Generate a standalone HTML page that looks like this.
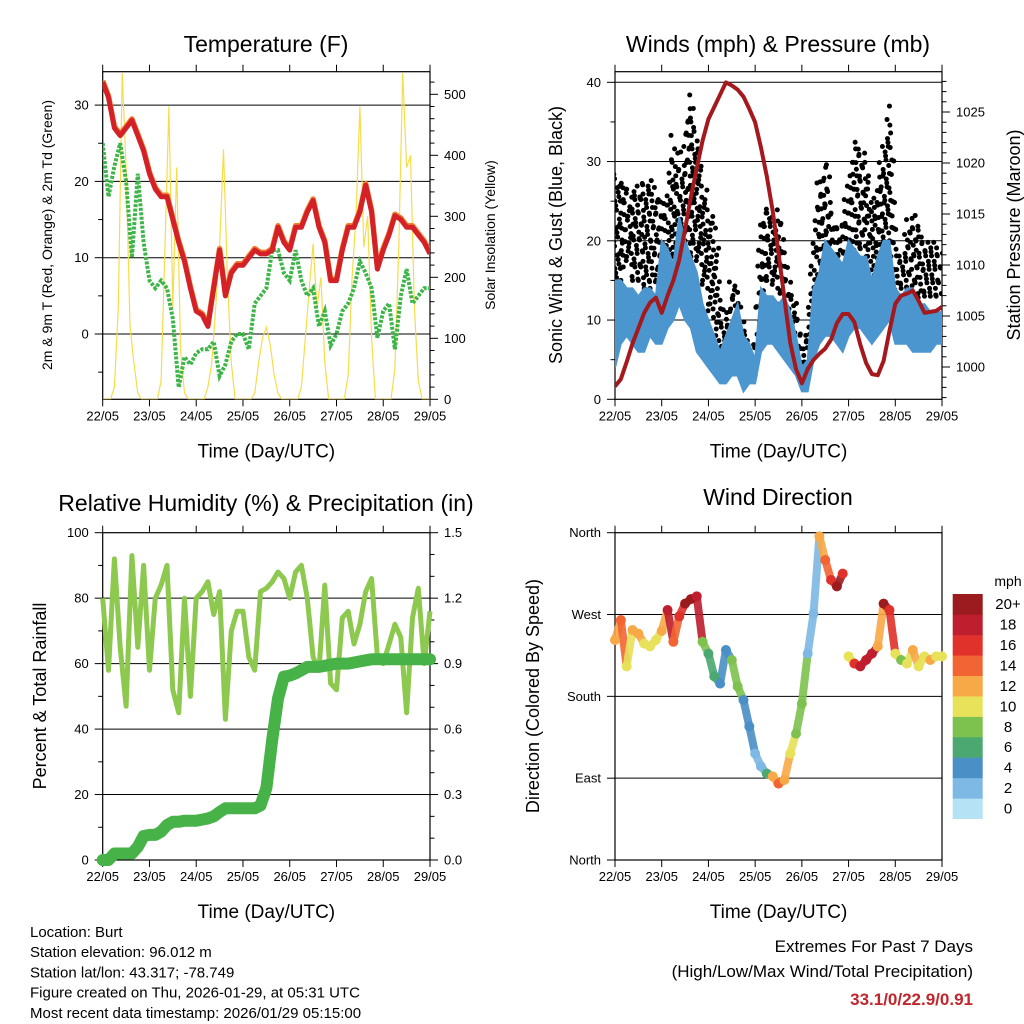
<!DOCTYPE html>
<html><head><meta charset="utf-8"><style>
html,body{margin:0;padding:0;background:#fff;}
svg{display:block;font-family:"Liberation Sans",Arial,sans-serif;}
</style></head><body>
<svg id="chart" width="1024" height="1024" viewBox="0 0 1024 1024"></svg>
<script>
// ===== DATA (3-hourly, index i => day i/8 from 22/05 00 UTC) =====
const dayLabels = ["22/05","23/05","24/05","25/05","26/05","27/05","28/05","29/05"];
const tempF = [33,31,27,26,27,28,26,24, 21,19,18,18,15,12,9.5,6, 3,2.5,1,6,11,5,8,9, 9,10,11,10.5,10.5,11,14,12, 11,14,14,16,17.5,14,12,7, 7,11,14,14,16,19.5,16,8.5, 11,13,15.5,15,14,14,13,12, 10.5];
const dewF = [25,18,22,25,20,10,21,12, 7,6,7,6,2,-7,-3,-4, -2.5,-2,-2,-1,-5.5,-4,-1,0, 0,-2,4,5,6,11,11,8, 7,11,7,5,6,1,3,-1.5, 0,3,4,6,9.5,8,6,-0.5, 3,4,-2,5,8.5,4,5,6, 6];
const solar = [0,0,0,20,150,535,380,120,60,10,0,0, 0,0,0,30,250,480,150,380,80,10,0,0, 0,0,0,20,60,150,250,410,200,60,0,0, 0,0,0,10,60,100,118,90,40,10,0,0, 0,0,0,20,100,180,255,150,200,60,0,0, 0,0,0,40,200,300,480,250,300,100,0,0, 0,0,0,50,250,535,380,400,150,30,0,0, 0]; // 2-hourly
const gustHi = [30,28,28,26,28,27,28,26, 25,26,34,28,35,39,33,28, 24,22,14,10,15,15,9,8, 6,23,25,22,25,20,14,12, 7,10,20,28,30,25,22,23, 28,33,32,30,25,27,32,38, 20,18,22,24,22,20,20,20, 18];
const gustLo = [8,15,18,15,15,14,14,15, 13,16,18,20,20,18,18,15, 12,8,4,4,8,5,3,3, 3,12,15,15,12,10,8,5, 3,4,10,12,16,15,13,12, 15,18,19,18,14,16,20,20, 13,14,14,13,12,13,13,13, 12];
const windHi = [15,15,14,14,13,14,14,13, 20,19,17,23,20,18,16,12, 10,8,6,8,10,12,8,7, 5,14,13,13,12,13,11,8, 4,5,14,16,20,19,18,17, 20,19,18,18,15,18,20,20, 14,13,14,14,12,12,11,11, 11];
const windLo = [4,7,8,7,6,6,8,7, 7,9,10,12,10,9,6,5, 4,3,2,2,3,3,1,2, 2,6,7,7,6,5,4,3, 1,1,5,7,8,8,7,6, 8,9,9,8,7,8,9,10, 7,7,7,6,6,6,6,7, 7];
const pressure = [998.1,998.8,1000.5,1002.3,1003.8,1005.3,1006.3,1006.8, 1005.3,1007,1008.5,1010.5,1013.5,1016.7,1019.5,1022.2, 1024.3,1025.5,1026.7,1027.9,1027.6,1027.2,1026.5,1025.3, 1024,1021.5,1018.7,1015.3,1011.2,1006.8,1002.4,999.8, 998.4,999.8,1000.7,1001.3,1001.8,1002.7,1004.3,1005.2, 1005.2,1004.4,1002.2,1000.4,999.3,999.2,1000.6,1003.5, 1006.2,1007,1007.2,1007.5,1006.5,1005.3,1005.4,1005.5, 1005.9];
const rh = [80,58,92,65,47,93,65,90, 58,80,84,90,52,45,80,50, 80,82,85,75,82,43,70,76, 76,62,58,82,83,85,88,86, 80,88,90,80,62,58,84,54, 52,74,76,66,72,82,86,62, 60,66,72,68,45,74,83,60, 76];
const rain = [0,0,0.03,0.03,0.03,0.03,0.06,0.11, 0.115,0.115,0.13,0.16,0.175,0.175,0.18,0.18, 0.18,0.185,0.19,0.2,0.22,0.237,0.237,0.237, 0.237,0.237,0.237,0.25,0.33,0.55,0.74,0.84, 0.845,0.855,0.87,0.885,0.885,0.885,0.89,0.895, 0.9,0.9,0.9,0.905,0.91,0.915,0.92,0.92, 0.92,0.92,0.92,0.92,0.92,0.92,0.92,0.92, 0.92];
const windDir = [242,264,213,253,249,238,235,242, 252,275,240,268,282,287,290,240, 227,202,194,231,220,191,176,147, 117,103,95,92,84,88,117,139, 172,227,271,356,330,308,301,315, 224,216,213,220,227,235,282,275, 227,220,216,231,213,224,220,224, 224];
const dirSpeed = [12,14,10,12,12,10,10,10, 12,18,14,16,20,20,18,8, 6,6,4,4,8,8,4,4, 2,2,6,12,14,12,10,8, 8,2,2,12,14,16,20,16, 10,16,18,18,18,12,20,16, 10,8,10,12,10,10,12,10, 10];
const speedColors = ["#B6E2F6","#7DB9E4","#4A8FC6","#4AA870","#7DC24E","#E8E15A","#F8A947","#F26532","#E0312A","#BE1E2D","#9B1B1E"];
const speedLabels = ["0","2","4","6","8","10","12","14","16","18","20+"];
const dirLabels = ["North","East","South","West","North"];

// ===== HELPERS =====
const NS="http://www.w3.org/2000/svg";
const svg=document.getElementById("chart");
function mk(tag,attrs,parent){const e=document.createElementNS(NS,tag);for(const k in attrs)e.setAttribute(k,attrs[k]);(parent||svg).appendChild(e);return e;}
function txt(s,x,y,size,anchor,parent,extra){const t=mk("text",Object.assign({x:x,y:y,"font-size":size,"text-anchor":anchor||"middle",fill:"#000"},extra||{}),parent);t.textContent=s;return t;}
function lin(v0,v1,p0,p1){return v=>p0+(v-v0)/(v1-v0)*(p1-p0);}

const P1={x0:102.7,x1:430,y0:71.7,y1:399.3};
const P2={x0:615,x1:942,y0:71.7,y1:399.3};
const P3={x0:102.7,x1:430,y0:532.7,y1:860};
const P4={x0:615,x1:942,y0:532.7,y1:860};

function frame(P,name){
  const g=mk("g",{});
  
  
  mk("rect",{x:P.x0,y:P.y0,width:P.x1-P.x0,height:P.y1-P.y0,fill:"none",stroke:"#000","stroke-width":1.2},g);
  const xs=lin(0,7,P.x0,P.x1);
  for(let d=0;d<=7;d++){
    const x=xs(d);
    mk("line",{x1:x,x2:x,y1:P.y1,y2:P.y1+7,stroke:"#000","stroke-width":1},g);
    mk("line",{x1:x,x2:x,y1:P.y0,y2:P.y0-7,stroke:"#000","stroke-width":1},g);
    const t=txt(dayLabels[d],x,P.y1+21,13,"middle",g);
    
    
  }
  const xt=txt("Time (Day/UTC)",(P.x0+P.x1)/2,P.y1+58,19,"middle",g);
  
  
  return xs;
}
function yTicks(P,side,scale,major,minor,lo,hi,labelFn,grid){
  const g=mk("g",{});
  
  
  const x=side==="left"?P.x0:P.x1, dir=side==="left"?-1:1;
  for(let v=Math.ceil(lo/minor)*minor;v<=hi+1e-9;v+=minor){
    const y=scale(v); if(y<P.y0-0.5||y>P.y1+0.5)continue;
    const isMaj=Math.abs(v/major-Math.round(v/major))<1e-6;
    mk("line",{x1:x,x2:x+dir*(isMaj?8:4.5),y1:y,y2:y,stroke:"#000","stroke-width":1},g);
    if(isMaj){
      const t=txt(labelFn(v),x+dir*14,y+4.5,13,side==="left"?"end":"start",g);
      
      
      if(grid&&y>P.y0+1&&y<P.y1-1)mk("line",{x1:P.x0,x2:P.x1,y1:y,y2:y,stroke:"#000","stroke-width":1},g);
    }
  }
}
function vtitle(s,x,y,size,name){const t=txt(s,x,y,size,"middle",svg,{transform:"rotate(-90 "+x+" "+y+")"});}
function title(s,x,y,name){const t=txt(s,x,y,23,"middle");}
function pathD(arr,xs,ys,step){return arr.map((v,i)=>(i?"L":"M")+xs(i*step).toFixed(1)+","+ys(v).toFixed(1)).join("");}

// ===== PANEL 1: TEMPERATURE =====
title("Temperature (F)",266,52,"temperature-title");
const xs1=frame(P1,"temperature");
const yT=lin(0,10,334,257.7);
const yS=lin(0,100,399.3,338.3);
yTicks(P1,"left",yT,10,5,-10,40,v=>String(v),true);
yTicks(P1,"right",yS,100,20,0,540,v=>String(v),false);
vtitle("2m & 9m T (Red, Orange) & 2m Td (Green)",52,235,14,"temperature-y-axis-title");
vtitle("Solar Insolation (Yellow)",495,235,14,"solar-y-axis-title");
const clip1=mk("clipPath",{id:"c1"});mk("rect",{x:P1.x0,y:P1.y0,width:P1.x1-P1.x0,height:P1.y1-P1.y0},clip1);
const g1=mk("g",{"clip-path":"url(#c1)"});
let e;
e=mk("path",{d:pathD(solar,xs1,yS,1/12),fill:"none",stroke:"#F7DC4A","stroke-width":1.2},g1);


e=mk("path",{d:pathD(dewF,xs1,yT,1/8),fill:"none",stroke:"#3DB548","stroke-width":4,"stroke-dasharray":"3 1.5"},g1);


e=mk("path",{d:pathD(tempF,xs1,yT,1/8),fill:"none",stroke:"#F08030","stroke-width":5.5,transform:"translate(0,-1.5)","stroke-linejoin":"round"},g1);


e=mk("path",{d:pathD(tempF,xs1,yT,1/8),fill:"none",stroke:"#D42027","stroke-width":5,"stroke-linejoin":"round"},g1);



// ===== PANEL 2: WINDS & PRESSURE =====
title("Winds (mph) & Pressure (mb)",778,52,"winds-title");
const xs2=frame(P2,"winds");
const yW=lin(0,10,399.3,320.05);
const yP=lin(1000,1005,367,316);
yTicks(P2,"left",yW,10,5,0,41,v=>String(v),true);
yTicks(P2,"right",yP,5,1,997,1029,v=>String(v),false);
vtitle("Sonic Wind & Gust (Blue, Black)",562,235,18,"wind-y-axis-title");
vtitle("Station Pressure (Maroon)",1020,235,18,"pressure-y-axis-title");
const clip2=mk("clipPath",{id:"c2"});mk("rect",{x:P2.x0,y:P2.y0,width:P2.x1-P2.x0,height:P2.y1-P2.y0},clip2);
const g2=mk("g",{"clip-path":"url(#c2)"});
const gg=mk("g",{fill:"#000"},g2);


for(let i=0;i<gustHi.length-1;i++){
  for(let f=0;f<3;f++){
    const fr=f/3, lo=gustLo[i]+(gustLo[i+1]-gustLo[i])*fr, hi=gustHi[i]+(gustHi[i+1]-gustHi[i])*fr;
    const x=xs2((i+fr)/8);
    let k=0;
    for(let v=lo+f*0.5;v<=hi+0.01;v+=1.7){k++;mk("circle",{cx:x+((k*7+f*3)%5-2)*1.2,cy:yW(v),r:2.5},gg);}
  }
}
let bd="";
windHi.forEach((v,i)=>{bd+=(i?"L":"M")+xs2(i/8).toFixed(1)+","+yW(v).toFixed(1);});
for(let i=windLo.length-1;i>=0;i--)bd+="L"+xs2(i/8).toFixed(1)+","+yW(windLo[i]).toFixed(1);
e=mk("path",{d:bd+"Z",fill:"#4C96D0",stroke:"#4C96D0","stroke-width":2},g2);


e=mk("path",{d:pathD(pressure,xs2,yP,1/8),fill:"none",stroke:"#A3191E","stroke-width":4,"stroke-linejoin":"round"},g2);



// ===== PANEL 3: RH & PRECIP =====
title("Relative Humidity (%) & Precipitation (in)",266,511,"humidity-title");
const xs3=frame(P3,"humidity");
const yH=lin(0,100,860,532.7);
const yR=lin(0,1.5,860,532.7);
yTicks(P3,"left",yH,20,10,0,100,v=>String(v),true);
yTicks(P3,"right",yR,0.3,0.1,0,1.5,v=>v.toFixed(1),false);
vtitle("Percent & Total Rainfall",46,696,18,"humidity-y-axis-title");
const clip3=mk("clipPath",{id:"c3"});mk("rect",{x:P3.x0-8,y:P3.y0,width:P3.x1-P3.x0+16,height:P3.y1-P3.y0+8},clip3);
const g3=mk("g",{"clip-path":"url(#c3)"});
e=mk("path",{d:pathD(rh,xs3,yH,1/8),fill:"none",stroke:"#8DC84F","stroke-width":5,"stroke-linejoin":"round"},g3);


e=mk("path",{d:pathD(rain,xs3,yR,1/8),fill:"none",stroke:"#47B247","stroke-width":12,"stroke-linecap":"round","stroke-linejoin":"round"},g3);



// ===== PANEL 4: WIND DIRECTION =====
title("Wind Direction",778,505,"wind-direction-title");
const xs4=frame(P4,"wind-direction");
const yD=lin(0,360,860,532.7);
yTicks(P4,"left",yD,90,90,0,360,v=>dirLabels[Math.round(v/90)],true);
vtitle("Direction (Colored By Speed)",539,696,18,"direction-y-axis-title");
const g4=mk("g",{});


function spCol(s){return speedColors[Math.max(0,Math.min(10,Math.round(s/2)))];}
for(let i=0;i<windDir.length-1;i++){
  if(windDir[i]-windDir[i+1]>60)continue;
  mk("line",{x1:xs4(i/8),y1:yD(windDir[i]),x2:xs4((i+1)/8),y2:yD(windDir[i+1]),stroke:spCol(dirSpeed[i]),"stroke-width":8,"stroke-linecap":"round",opacity:0.9},g4);
}
windDir.forEach((d,i)=>{
  const c=mk("circle",{cx:xs4(i/8),cy:yD(d),r:5,fill:spCol(dirSpeed[i])},g4);
  
  
});
// colorbar
const cb=mk("g",{});


const cbTop=594, cbH=20.43;
speedColors.forEach((c,k)=>{
  const y=cbTop+(10-k)*cbH;
  const r=mk("rect",{x:952.7,y:y,width:30,height:cbH+0.3,fill:c},cb);
  
  
  const t=txt(speedLabels[k],1008,y+cbH/2+5,15,"middle",cb);
  
  
});
e=txt("mph",1008,586,14,"middle",cb);



// ===== FOOTER TEXT =====
const info=["Location: Burt","Station elevation: 96.012 m","Station lat/lon: 43.317; -78.749","Figure created on Thu, 2026-01-29, at 05:31 UTC","Most recent data timestamp: 2026/01/29 05:15:00"];
info.forEach((s,k)=>{const t=txt(s,30,937+k*20.2,15,"start");});
e=txt("Extremes For Past 7 Days",973,952,17,"end");


e=txt("(High/Low/Max Wind/Total Precipitation)",973,977,17,"end");


e=txt("33.1/0/22.9/0.91",973,1005,17,"end",svg,{fill:"#C0272D","font-weight":"bold"});


</script>
</body></html>
